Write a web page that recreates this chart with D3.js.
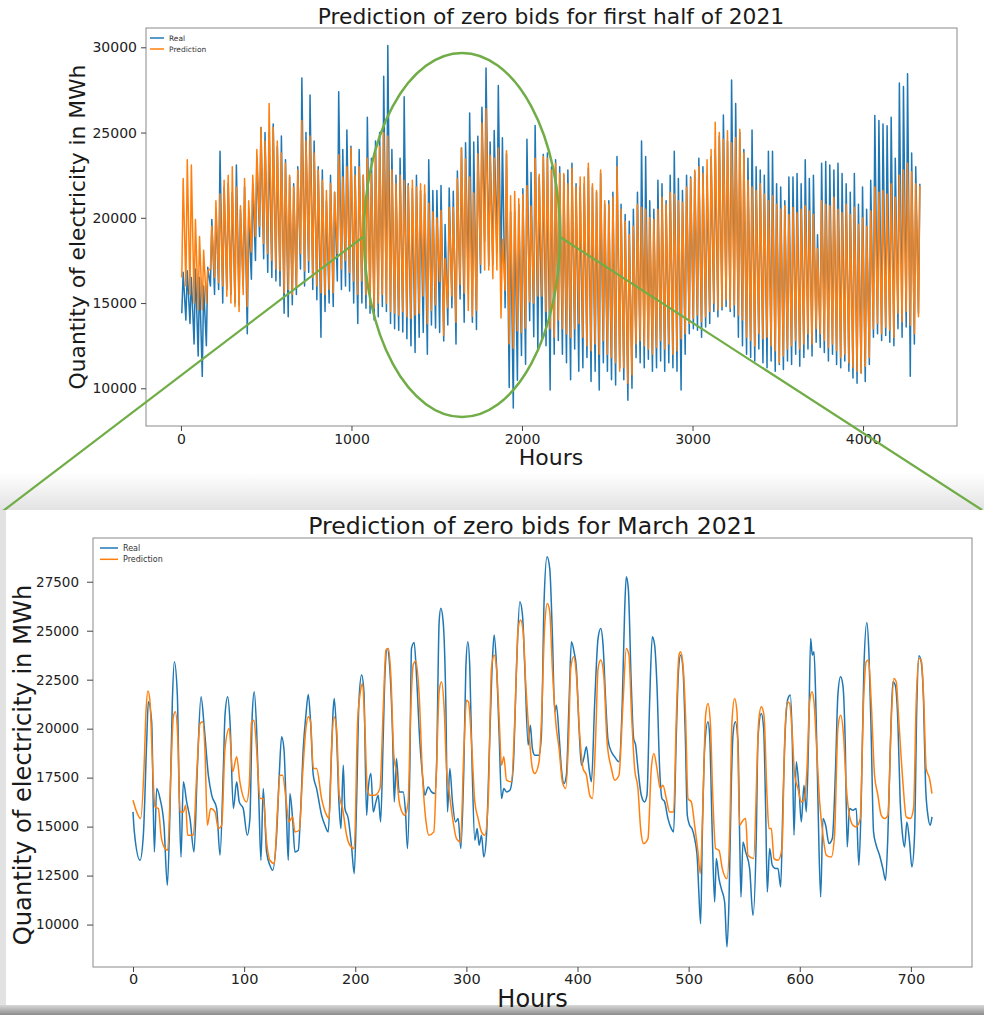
<!DOCTYPE html>
<html>
<head>
<meta charset="utf-8">
<script src="https://cdn.jsdelivr.net/npm/d3@7"></script>
<style>
body { margin: 0; background: #fff; }
</style>
</head>
<body>
<svg id="fig" width="984" height="1015"></svg>
<script>
// ---- first half of 2021: one daily trough and one daily peak per series ----
const realPeak = [
    16800, 16900, 16500, 17000, 16500, 16000, 17100, 19900, 20500, 23900, 21800,
    22000, 21500, 23100, 20500, 21800, 20000, 22000, 23500, 25300, 25000, 25000,
    25500, 24200, 24800, 23400, 22400, 22000, 23000, 28200, 25000, 27200, 24500, 23000,
    22800, 21000, 22500, 21500, 27400, 24000, 25150, 24200, 23000, 24000,
    22500, 25900, 23500, 24500, 25000, 28300, 30100, 24000, 22500, 23500, 27100,
    22000, 21700, 22500, 21600,
    21400, 23400, 21600, 21600, 21900, 19600, 21750, 21550, 22750, 24100, 24400, 26140,
    24440, 24780, 26480, 28780, 24440, 25120, 27760, 24690, 23750, 20350, 20350, 20780,
    21710, 24610, 22650, 25420, 22390, 23720,
    23800, 23000, 23400, 23000, 22500, 22800, 23200, 22000, 21800,
    22000, 22900, 21800, 21500, 22600, 20800, 21000, 21500, 23600, 20800, 20200, 19800, 20500,
    21500, 24500, 23600, 21000, 20500, 22200, 22000, 21000, 22500, 23900, 22300, 21600, 22500,
    22400, 22700, 23500, 23000, 22500, 23600, 24000, 24800, 26030, 24500, 28080, 26700, 25000, 24000,
    23500, 25150, 23000, 22800, 22500, 23900, 23900, 22000, 21800, 21000, 22400,
    22400, 22600, 22000, 23400, 22300, 22500, 19000, 23200, 23300, 23100, 22800, 23200, 22600, 22000,
    21500, 22600, 20800, 21800, 20500, 22200, 26000, 25700, 25500, 25400, 25900, 23500,
    27900, 27700, 28450, 23800, 23000, 22000
]
const realLow = [
    14400, 14000, 13800, 12600, 11900, 10700, 12500, 16000, 15500, 15800, 15000,
    15800, 15500, 15000, 14900, 16000, 13200, 16400, 17500, 18900, 17600, 16800,
    16500, 16300, 16000, 14400, 14200, 14900, 15500, 17000, 16000, 16800, 15800, 15200,
    13000, 14500, 15000, 14800, 16300, 15800, 16000, 15700, 15000, 13800,
    15000, 14700, 14400, 14000, 14200, 14800, 14500, 13800, 13500, 13400, 13300,
    12900, 12500, 12100, 13000,
    13280, 12000, 13710, 13540, 13280, 12770, 13710, 14730, 12600, 15240, 13880, 15750,
    13880, 13450, 16770, 18650, 17200, 17280, 17970, 16260, 14730, 10050, 8850, 10470,
    11920, 11410, 13960, 13030, 12260, 12940,
    12500, 9900, 12000, 12800, 12000, 11500, 10500, 12300, 11000,
    11200, 11800, 10400, 11000, 9900, 11500, 11000, 10500, 10200, 11200, 10500, 9300, 10000,
    11800, 11500, 11200, 11700, 11000, 11200, 11600, 11000, 11500, 11200, 11000, 9900, 12000,
    13200, 13500, 13400, 13000, 13600, 13800, 14500, 14200, 14600, 14800, 14500, 14200, 13000, 12500,
    12000, 11800, 11600, 12300, 11500, 11200, 11600, 11000, 11400, 11100, 11600,
    11400, 12000, 11300, 11800, 12300, 11900, 12700, 12400, 12100, 11600, 12000, 11400, 11200, 11600,
    11000, 10600, 10300, 10900, 10400, 11400, 13000, 13200, 12800, 13100, 12700, 12500,
    13500, 13000, 13600, 10700, 12600, 14400
]
const predPeak = [
    22300, 23400, 23100, 19900, 18900, 18100, 16900, 19500, 21000, 21400, 22200,
    22500, 23000, 21800, 20700, 22300, 21000, 22500, 24000, 25300, 24500, 26700,
    25300, 24500, 23800, 23200, 22500, 21800, 22800, 25700, 24500, 24800, 23800, 22800,
    22200, 21600, 22000, 21500, 23700, 22400, 23000, 24100, 22500, 23000,
    22500, 23500, 22600, 23800, 24200, 25000, 24800, 22800, 22000, 22500, 22200,
    21900, 22200, 21800, 22000,
    21920, 20860, 20350, 20010, 20430, 17620, 20610, 20610, 22310, 24100, 23450, 22390,
    21460, 23760, 25540, 26400, 23670, 23500, 24100, 18730, 23930, 21290, 21540, 21120,
    21370, 21880, 20690, 23500, 22560, 23590,
    23500, 22800, 23200, 22600, 22600, 22000, 22900, 21800, 22400,
    22400, 23200, 22000, 21600, 22800, 21000, 20800, 21200, 23000, 20500, 19800, 19000, 19500,
    20800, 20600, 20500, 20000, 19900, 20500, 21200, 20800, 21500, 21400, 21000, 20900, 21800,
    22300, 22800, 23000, 22600, 23400, 24000, 25600, 25000, 24600, 25100, 24400, 24700, 25200, 23800,
    22200, 21800, 21600, 22000, 21400, 21000, 21300, 20800, 20500, 20700, 20200,
    20600, 20300, 20500, 20700, 20400, 20200, 18200, 21000, 20800, 20700, 21200, 20500, 20300, 20800,
    20200, 20600, 19600, 20000, 19500, 20400, 21800, 21500, 21600, 21400, 22000, 21200,
    22500, 22800, 23200, 22700, 22000, 21900
]
const predLow = [
    16500, 16000, 15500, 15000, 14600, 14600, 15000, 17000, 16500, 16200, 16000,
    15400, 15000, 14800, 14500, 15500, 14800, 18000, 18900, 19500, 18500, 17900,
    17500, 17000, 16900, 15600, 15800, 15500, 16000, 17900, 16900, 17500, 16500, 16000,
    15600, 15500, 15800, 15600, 17900, 17000, 17500, 16800, 16300, 15500,
    16300, 15500, 14900, 14700, 15000, 15500, 15000, 14500, 14400, 14300, 14500,
    14200, 14100, 14300, 14400,
    15410, 13790, 14560, 14900, 16260, 13110, 14730, 15410, 13880, 16090, 15580, 14560,
    14220, 14560, 17280, 16940, 16940, 16430, 16940, 14130, 15750, 12600, 12350, 13370,
    13280, 13540, 15070, 14990, 15410, 15410,
    14500, 13500, 13000, 14000, 13500, 13200, 13000, 13500, 13800,
    13000, 12500, 12200, 12600, 12000, 12800, 12000, 11800, 11500, 11000, 11200, 10300, 10800,
    12600, 12800, 12500, 12300, 12000, 12400, 12800, 12300, 12600, 12000, 12200, 12900, 13200,
    13800, 14100, 14300, 13900, 14200, 14500, 15000, 14600, 14800, 15200, 14700, 14900, 14300, 14000,
    13000, 12800, 12500, 13200, 12900, 13000, 12500, 12200, 11500, 11900, 12300,
    12500, 12800, 12300, 12600, 13200, 12600, 13500, 13200, 12800, 12400, 12600, 12200, 11800, 12000,
    11500, 11200, 11000, 10900, 11300, 11800, 13500, 13800, 13200, 13600, 13400, 13000,
    14400, 13900, 14500, 13700, 13200, 14200
]
// hour of day where the trough and the peak fall
const lowHour = 5
const peakHour = 13

// ---- March 2021: [hour, MWh] ----
const marchReal = [
    [0,15751],[1.2,14730],[6.3,13282],[9.3,14560],[12.3,19328],[13.8,21371],[16.8,20349],[19.2,13708],
    [21.3,16943],[24.3,16432],[27.9,15070],[30.9,12004],[33.3,15921],[35.4,21371],[37.2,23415],[39.9,21712],
    [41.7,16262],[43.2,13452],[45.3,17284],[48.3,16262],[51.3,15411],[54.9,13708],[57.9,17965],[61.2,21626],
    [64.2,20008],[67.8,17624],[70.8,16603],[75.3,15921],[78.3,13537],[81.3,17965],[82.8,20690],[85.2,21626],
    [87.3,20349],[90.3,15921],[93.3,17284],[95.6,16262],[99.2,15921],[102.8,14559],[105.2,15411],[107.3,20690],
    [109.1,21882],[111.2,20008],[113.3,16262],[115.1,13282],[117.2,16943],[120.2,13708],[123.2,13026],[125.6,12771],
    [129.2,14559],[131.6,17624],[133.7,19583],[135.8,18987],[138.2,15411],[139.7,13282],[141.2,16688],[143.6,15411],
    [145.7,13708],[148.7,13793],[150.8,15751],[153.2,18987],[155.6,20690],[157.7,21746],[159.8,20349],[162.2,17624],
    [165.2,16943],[169.7,15581],[172.7,15070],[175.7,14730],[178.1,17965],[180.2,21030],[181.1,21541],[183.2,19668],
    [185.3,16262],[187.1,14900],[189.2,18135],[190.7,15921],[193.7,15411],[196.7,13963],[199.1,12601],[201.2,16262],
    [203.3,21371],[205.7,22733],[207.8,21882],[210.2,15581],[211.7,16943],[214.1,17710],[216.2,15751],[218.6,16262],
    [220.7,16603],[222.8,15240],[225.2,19668],[226.7,22733],[228.8,24096],[231.1,23074],[233.6,19668],[235.1,16262],
    [237.1,18476],[239.5,16773],[243.1,16773],[245.2,15751],[247.0,13878],[249.1,17965],[250.6,24096],[253.0,24402],
    [255.1,22733],[258.1,19328],[260.5,17624],[262.6,16603],[265.6,17028],[268.6,16773],[271.6,16688],[273.1,17965],
    [275.5,25458],[277.0,26140],[279.1,25458],[281.5,21371],[283.0,15751],[285.1,17965],[287.5,16262],[290.2,15240],
    [292.6,15411],[295.0,13878],[297.7,17965],[299.5,23074],[301.3,24436],[303.1,23074],[305.2,17965],[307.6,14304],
    [309.7,14900],[311.5,14048],[313.6,14559],[315.7,13452],[318.1,14559],[321.1,19668],[323.5,23585],[325.0,24777],
    [327.1,23244],[329.5,19668],[331.6,16432],[333.7,16943],[336.1,16773],[339.1,16858],[342.1,17965],[345.1,23074],
    [348.1,26480],[350.5,25799],[352.6,23074],[355.6,19157],[357.5,20179],[359.4,18987],[361.5,18646],[365.4,18646],
    [367.5,19668],[369.9,26480],[372.6,28779],[375.0,28183],[377.4,24777],[379.5,20860],[381.0,21201],[383.4,19668],
    [385.5,17965],[387.9,17199],[390.0,17624],[392.4,21371],[394.5,24436],[396.9,23925],[399.0,23074],[401.4,20008],
    [403.5,18135],[405.6,18476],[408.0,19072],[410.4,17965],[412.5,17284],[415.5,21371],[418.5,24607],[420.9,25118],
    [423.0,24266],[425.4,21371],[427.5,19413],[430.5,18817],[433.5,18561],[437.3,18306],[440.3,21371],[442.4,25970],
    [443.9,27757],[445.7,27161],[448.4,22222],[450.5,19498],[452.3,19157],[454.4,17965],[457.4,16603],[460.4,16262],
    [462.5,16603],[464.9,21371],[467.3,24692],[469.4,24266],[471.5,22222],[473.9,17965],[476.0,16432],[478.4,16262],
    [481.4,15411],[484.4,14900],[486.5,14730],[488.9,19668],[491.0,23074],[492.8,23755],[494.9,23074],[497.0,19668],
    [498.8,15581],[500.9,15070],[503.0,14900],[505.4,14389],[507.8,13367],[509.3,11494],[510.8,10046],[512.3,14559],
    [514.4,18987],[517.4,20349],[518.9,19668],[521.3,14559],[523.4,11153],[524.9,13367],[527.3,12345],[529.4,11834],
    [532.4,11153],[534.5,8854],[536.3,11153],[538.4,17113],[539.9,19668],[542.0,20349],[544.4,19328],[545.9,14559],
    [547.1,11408],[548.9,14219],[551.3,13708],[554.9,12856],[557.9,10472],[560.9,14559],[562.4,19500],[565.4,20775],
    [567.5,20008],[569.3,15921],[570.8,11664],[572.9,13878],[575.3,13026],[578.3,12856],[580.4,12856],[582.8,11919],
    [584.9,16262],[587.3,20349],[589.4,21541],[591.5,21712],[593.3,19328],[594.8,14559],[596.9,18306],[599.3,16943],
    [601.4,15240],[603.8,17113],[605.9,15751],[608.0,19668],[609.8,24607],[611.3,23755],[612.8,23925],[614.3,21712],
    [616.4,16262],[618.8,11408],[620.9,15411],[623.3,15070],[626.3,14134],[629.3,14389],[632.2,17965],[634.3,21712],
    [636.7,22648],[638.8,22222],[640.9,19328],[642.7,13963],[644.8,15921],[647.8,15836],[650.8,15921],[653.2,13026],
    [655.3,16262],[657.7,23074],[660.4,25424],[662.2,23925],[664.3,19668],[666.4,14730],[668.8,14048],[671.8,13537],
    [674.8,12856],[677.2,12260],[679.3,14559],[681.4,18817],[683.8,22393],[685.9,22222],[688.3,20349],[690.4,16262],
    [692.2,14730],[694.3,13963],[696.4,15240],[698.8,14219],[700.9,12941],[703.3,14559],[705.4,21371],[707.2,23721],
    [709.3,23415],[711.4,21371],[713.2,17113],[715.3,15581],[717.4,15070],[719.0,15496]
]
const marchPred = [
    [0,16348],[3.3,15751],[6.9,15411],[9.9,17965],[11.7,20860],[13.5,21916],[15.3,21371],[17.7,17965],
    [19.8,16006],[22.8,15921],[25.2,14559],[27.9,13963],[31.2,13793],[34.2,17965],[36.3,20605],[38.1,20860],
    [40.2,19668],[42.3,15751],[45.3,15751],[47.4,16092],[49.2,14559],[54.3,14559],[57.3,17624],[60.3,20264],
    [62.7,20349],[64.8,18817],[66.9,15070],[69.9,15921],[73.8,15751],[76.8,14900],[79.8,15070],[82.8,18987],
    [86.6,20008],[89.6,17795],[93.3,18561],[96.2,17284],[102.2,16262],[104.6,17113],[106.7,20349],[108.8,20434],
    [111.2,18987],[114.2,16432],[117.2,16432],[120.2,14219],[123.2,13282],[127.1,13112],[130.1,15921],[132.2,17624],
    [134.6,17624],[137.6,16432],[140.3,15240],[143.6,15496],[145.7,14730],[149.6,14815],[152.6,17624],[155.6,20008],
    [157.7,20605],[159.8,20349],[162.2,17965],[165.2,17965],[169.7,16432],[174.2,15581],[176.6,15411],[178.7,18987],
    [180.8,20605],[183.2,20008],[185.6,16603],[188.6,15921],[192.2,14559],[195.2,14048],[199.1,13878],[202.1,20349],
    [204.2,21712],[206.6,22308],[208.7,20008],[210.8,16943],[213.2,16603],[217.7,16603],[222.2,16943],[225.2,21030],
    [227.6,24011],[229.9,24096],[232.0,22733],[234.7,18646],[236.5,17965],[240.1,16092],[244.6,15581],[247.6,16262],
    [249.7,20520],[252.1,23244],[254.5,23449],[257.5,21712],[260.5,17624],[264.1,15070],[266.2,14559],[270.7,14730],
    [273.1,17965],[275.5,21882],[277.6,22393],[280.0,21030],[282.1,17965],[284.5,16773],[288.1,15240],[291.1,14389],
    [294.7,14219],[297.7,18817],[300.1,21456],[301.9,21371],[304.6,19328],[307.6,16262],[310.6,15411],[313.6,14730],
    [316.6,14559],[319.6,16262],[322.6,23074],[325.0,23755],[327.1,23074],[329.5,20520],[331.6,18135],[333.7,18561],
    [336.1,17369],[340.6,17284],[343.6,20520],[346.6,25118],[348.7,25544],[351.1,24947],[353.5,22222],[356.5,19668],
    [359.4,17965],[361.5,17710],[365.4,18306],[367.5,20349],[370.5,25288],[372.9,26395],[375.0,25970],[377.4,23074],
    [380.4,20349],[383.4,18987],[386.4,17284],[389.4,16943],[392.1,19668],[393.9,23074],[396.6,23670],[399.0,22733],
    [402.0,19668],[405.0,17965],[408.0,17624],[411.0,16603],[413.4,16432],[416.4,19668],[418.5,23074],[420.9,23500],
    [423.6,22733],[426.6,19328],[430.5,17965],[433.5,17369],[437.3,17624],[441.0,21371],[443.9,24096],[446.3,23755],
    [448.4,21030],[451.4,17965],[454.4,16943],[456.8,14900],[459.5,14134],[463.4,14389],[466.4,17965],[468.8,18731],
    [471.5,17965],[474.5,16943],[476.9,17113],[479.9,16432],[482.9,15751],[486.5,15751],[488.9,20520],[491.3,23755],
    [492.8,23925],[494.9,23244],[497.3,20520],[499.4,16432],[502.4,16262],[505.4,15070],[508.4,13708],[510.5,12601],
    [512.9,16262],[515.3,20690],[517.4,21286],[519.5,20349],[521.9,16262],[524.3,13878],[527.3,13793],[530.3,12856],
    [534.5,12345],[536.9,14559],[539.0,20349],[541.4,21541],[543.5,20860],[545.9,15070],[548.9,15326],[551.3,15411],
    [553.4,13537],[558.5,13367],[561.5,17965],[563.0,20349],[565.4,21116],[567.8,20690],[570.5,16603],[572.3,14900],
    [574.4,14900],[576.8,13367],[580.4,13282],[584.0,13878],[586.4,19328],[588.8,21371],[590.9,21286],[593.3,19668],
    [595.4,17624],[598.4,16943],[601.4,16262],[604.4,16432],[606.5,17965],[608.9,21371],[611.0,21882],[612.8,21371],
    [614.9,19328],[617.9,16262],[620.9,14559],[623.9,13537],[628.4,13452],[631.3,14559],[634.3,20008],[636.7,20690],
    [639.4,19668],[641.8,17113],[644.2,15751],[647.8,15070],[650.8,14985],[654.4,15411],[657.4,21371],[659.8,23415],
    [661.9,23500],[664.3,21371],[667.3,17624],[670.3,16603],[673.3,15581],[676.3,15411],[679.3,15581],[682.3,20349],
    [684.7,22563],[686.8,22393],[689.2,20349],[692.8,17284],[695.8,15496],[699.4,15411],[702.4,15921],[704.8,21371],
    [707.2,23585],[709.3,23500],[711.4,21712],[713.8,17965],[716.8,17454],[719.0,16688]
]

// ticks
const topXTicks = [0, 1000, 2000, 3000, 4000]
const topYTicks = [10000, 15000, 20000, 25000, 30000]
const botXTicks = [0, 100, 200, 300, 400, 500, 600, 700]
const botYTicks = [10000, 12500, 15000, 17500, 20000, 22500, 25000, 27500]
const seriesNames = ["Real", "Prediction"]

const BLUE = "#1f77b4"
const ORANGE = "#ff7f0e"
const GREEN = "#70ad47"
const FONT = "DejaVu Sans, sans-serif"

var svg = d3.select("#fig")
var defs = svg.append("defs")

// daily low/high pairs -> zigzag line
function zigzag(lows, peaks) {
    let n = Math.min(lows.length, peaks.length)
    let pts = []
    for (let i = 0; i < n; i++) {
        pts.push([i * 24 + lowHour, lows[i]])
        pts.push([i * 24 + peakHour, peaks[i]])
    }
    return pts
}

function styleAxis(g, size) {
    g.attr("font-family", FONT).attr("font-size", size)
    g.select(".domain").remove()
    g.selectAll(".tick line").attr("stroke", "#444")
    g.selectAll(".tick text").attr("fill", "#222")
}

function drawPanel(p) {
    let x = d3.scaleLinear().domain(p.xDomain).range([p.left, p.right])
    let y = d3.scaleLinear().domain(p.yDomain).range([p.bottom, p.top])
    let g = svg.append("g")

    let line = d3.line().x(d => x(d[0])).y(d => y(d[1])).curve(p.curve)
    g.append("path").datum(p.real).attr("d", line)
        .attr("fill", "none").attr("stroke", BLUE).attr("stroke-width", p.lw).attr("stroke-linejoin", "round")
    g.append("path").datum(p.pred).attr("d", line)
        .attr("fill", "none").attr("stroke", ORANGE).attr("stroke-width", p.lw).attr("stroke-linejoin", "round")

    g.append("rect")
        .attr("x", p.left).attr("y", p.top)
        .attr("width", p.right - p.left).attr("height", p.bottom - p.top)
        .attr("fill", "none").attr("stroke", "#8a8a8a").attr("stroke-width", 1)

    g.append("g").attr("transform", `translate(0,${p.bottom})`)
        .call(d3.axisBottom(x).tickValues(p.xTicks).tickSize(5).tickPadding(p.xPad).tickFormat(d3.format("d")))
        .call(a => styleAxis(a, p.xTickSize))
    g.append("g").attr("transform", `translate(${p.left},0)`)
        .call(d3.axisLeft(y).tickValues(p.yTicks).tickSize(p.yTickLen).tickPadding(p.yPad).tickFormat(d3.format("d")))
        .call(a => styleAxis(a, p.yTickSize))

    // legend
    let lg = g.append("g").attr("font-family", FONT).attr("font-size", p.legSize)
    seriesNames.forEach((name, i) => {
        let ly = p.legY + i * p.legGap
        lg.append("line").attr("x1", p.legX).attr("x2", p.legX + p.legLen)
            .attr("y1", ly).attr("y2", ly)
            .attr("stroke", i == 0 ? BLUE : ORANGE).attr("stroke-width", 1.5)
        lg.append("text").attr("x", p.legX + p.legLen + 5).attr("y", ly)
            .attr("dy", "0.35em").attr("fill", "#333").text(name)
    })

    // titles
    g.append("text").attr("x", p.titleX).attr("y", p.titleY)
        .attr("text-anchor", "middle").attr("font-family", FONT).attr("font-size", p.titleSize)
        .attr("fill", "#1a1a1a").text(p.title)
    g.append("text").attr("x", p.titleX).attr("y", p.xLabelY)
        .attr("text-anchor", "middle").attr("font-family", FONT).attr("font-size", p.xLabelSize)
        .attr("fill", "#1a1a1a").text("Hours")
    g.append("text")
        .attr("transform", `translate(${p.yLabelX},${p.yLabelY}) rotate(-90)`)
        .attr("text-anchor", "middle").attr("font-family", FONT).attr("font-size", p.yLabelSize)
        .attr("fill", "#1a1a1a").text("Quantity of electricity in MWh")
}

// ---- top panel ----
drawPanel({
    left: 146, right: 957, top: 28, bottom: 426,
    xDomain: [-205, 4551], yDomain: [7789, 31132],
    real: zigzag(realLow, realPeak), pred: zigzag(predLow, predPeak),
    curve: d3.curveLinear, lw: 1.5,
    xTicks: topXTicks, yTicks: topYTicks,
    xTickSize: 14, yTickSize: 14, xPad: 3, yPad: 4, yTickLen: 5,
    legX: 150, legY: 38, legGap: 11, legLen: 14, legSize: 7.5,
    title: "Prediction of zero bids for first half of 2021",
    titleX: 551, titleY: 24, titleSize: 21.8,
    xLabelY: 465, xLabelSize: 22,
    yLabelX: 85, yLabelY: 227, yLabelSize: 21.8
})

// ---- zoom marks: ellipse over March and the two guide lines ----
let shadeTop = defs.append("linearGradient").attr("id", "shadeTop")
    .attr("x1", 0).attr("y1", 0).attr("x2", 0).attr("y2", 1)
shadeTop.append("stop").attr("offset", 0).attr("stop-color", "#000").attr("stop-opacity", 0)
shadeTop.append("stop").attr("offset", 1).attr("stop-color", "#000").attr("stop-opacity", 0.11)
let shadeBot = defs.append("linearGradient").attr("id", "shadeBot")
    .attr("x1", 0).attr("y1", 0).attr("x2", 0).attr("y2", 1)
shadeBot.append("stop").attr("offset", 0).attr("stop-color", "#d8d8d8")
shadeBot.append("stop").attr("offset", 1).attr("stop-color", "#8c8c8c")

svg.append("rect").attr("x", 0).attr("y", 472).attr("width", 984).attr("height", 38).attr("fill", "url(#shadeTop)")

svg.append("ellipse").attr("cx", 462).attr("cy", 235).attr("rx", 98).attr("ry", 182)
    .attr("fill", "none").attr("stroke", GREEN).attr("stroke-width", 2.5)
svg.append("line").attr("x1", 3).attr("y1", 511).attr("x2", 363).attr("y2", 237)
    .attr("stroke", GREEN).attr("stroke-width", 2.2)
svg.append("line").attr("x1", 560).attr("y1", 237).attr("x2", 982).attr("y2", 510)
    .attr("stroke", GREEN).attr("stroke-width", 2.2)

// card holding the March panel
svg.append("rect").attr("x", 0).attr("y", 510).attr("width", 6).attr("height", 496).attr("fill", "#e2e2e2")
svg.append("rect").attr("x", 0).attr("y", 1005).attr("width", 984).attr("height", 10).attr("fill", "url(#shadeBot)")
svg.append("rect").attr("x", 6).attr("y", 510).attr("width", 978).attr("height", 495).attr("fill", "#fff")

// ---- bottom panel ----
drawPanel({
    left: 93, right: 972, top: 538, bottom: 967,
    xDomain: [-36, 755], yDomain: [7834, 29732],
    real: marchReal, pred: marchPred,
    curve: d3.curveMonotoneX, lw: 1.5,
    xTicks: botXTicks, yTicks: botYTicks,
    xTickSize: 14.5, yTickSize: 13.5, xPad: 2, yPad: 8, yTickLen: 6,
    legX: 100, legY: 548, legGap: 11.3, legLen: 18, legSize: 8,
    title: "Prediction of zero bids for March 2021",
    titleX: 532.5, titleY: 534, titleSize: 23.6,
    xLabelY: 1007, xLabelSize: 24,
    yLabelX: 31, yLabelY: 765, yLabelSize: 24.2
})
</script>
</body>
</html>
